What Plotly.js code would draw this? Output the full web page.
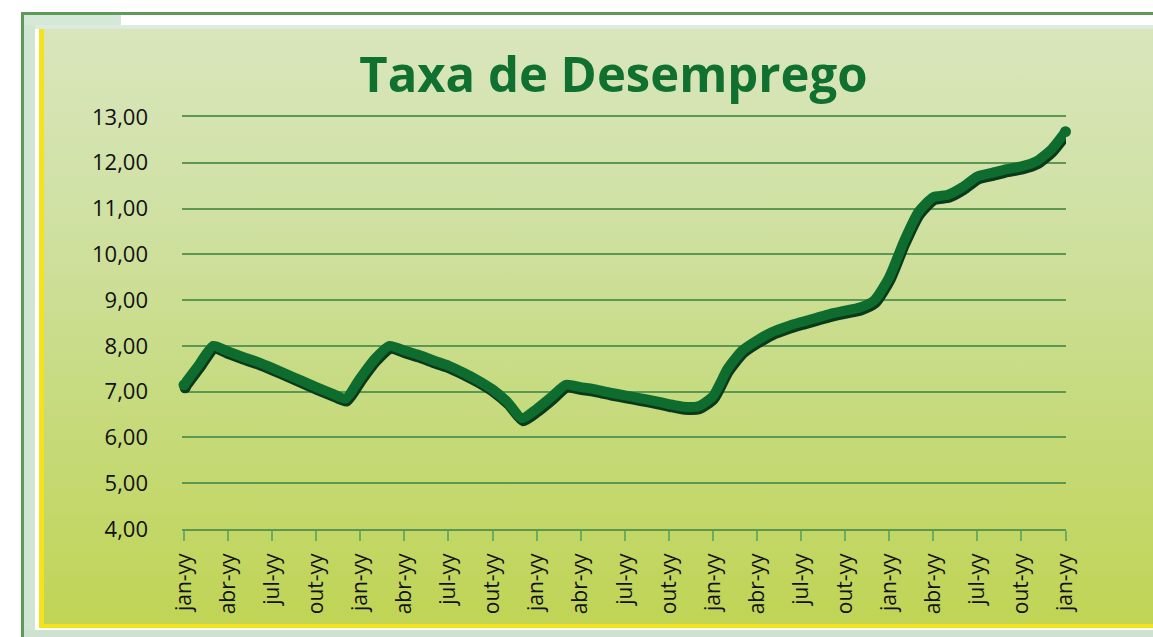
<!DOCTYPE html>
<html>
<head>
<meta charset="utf-8">
<script src="https://cdn.plot.ly/plotly-3.0.1.min.js"></script>
<style>
  html, body { margin: 0; padding: 0; background: #ffffff; width: 1153px; height: 637px; overflow: hidden; }
  .blk { position: absolute; }
  #outer { left: 21px; top: 12px; width: 1132px; height: 625px; border-top: 3px solid #5f9a58; border-left: 3px solid #5f9a58; background: #ffffff; box-sizing: border-box; }
  #mintL { left: 24px; top: 15px; width: 11px; height: 622px; background: #d0e5d2; }
  #mintT { left: 24px; top: 15px; width: 97px; height: 10px; background: #d6e8d8; }
  #pale  { left: 35px; top: 25px; width: 1118px; height: 4px; background: #dcecdc; }
  #mintB { left: 24px; top: 630px; width: 1129px; height: 7px; background: #cde3cf; }
  #yelL  { left: 39px; top: 29px; width: 5px; height: 599px; background: #f3e21c; }
  #yelB  { left: 39px; top: 624px; width: 1114px; height: 4px; background: #f3e21c; }
  #panel { left: 44px; top: 29px; width: 1109px; height: 595px;
           background: linear-gradient(to bottom, #d9e6bd 0%, #d0e1a4 30%, #c7db82 60%, #c0d455 100%); }
  #chart { position: absolute; left: 0; top: 0; width: 1153px; height: 637px; }
  .scatterlayer path.js-line { stroke-linecap: round !important; stroke-linejoin: round !important; }
</style>
</head>
<body>
<div class="blk" id="outer"></div>
<div class="blk" id="mintL"></div>
<div class="blk" id="mintT"></div>
<div class="blk" id="pale"></div>
<div class="blk" id="mintB"></div>
<div class="blk" id="panel"></div>
<div class="blk" id="yelL"></div>
<div class="blk" id="yelB"></div>
<div id="chart"></div>
<script>
// Month index (0 = first "jan-yy" tick) and unemployment rate (%)
const months = [
  0, 1, 2, 3, 4, 5, 6, 7, 8, 9, 10, 11,
  12, 13, 14, 15, 16, 17, 18, 19, 20, 21, 22, 23,
  24, 25, 26, 27, 28, 29, 30, 31, 32, 33, 34, 35,
  36, 37, 38, 39, 40, 41, 42, 43, 44, 45, 46, 47,
  48, 49, 50, 51, 52, 53, 54, 55, 56, 57, 58, 59,
  60
];
const rate = [
  7.15, 7.58, 8.00, 7.88, 7.76, 7.65, 7.52, 7.38, 7.24, 7.10, 6.97, 6.85,
  7.30, 7.72, 8.00, 7.90, 7.80, 7.68, 7.57, 7.42, 7.25, 7.05, 6.78, 6.42,
  6.62, 6.88, 7.15, 7.10, 7.05, 6.98, 6.92, 6.86, 6.80, 6.73, 6.67, 6.68,
  6.90, 7.50, 7.90, 8.12, 8.30, 8.42, 8.52, 8.61, 8.70, 8.77, 8.84, 9.00,
  9.50, 10.28, 10.93, 11.25, 11.30, 11.47, 11.70, 11.78, 11.86, 11.92, 12.03, 12.28,
  12.68
];
const xTickVals = [0, 3, 6, 9, 12, 15, 18, 21, 24, 27, 30, 33, 36, 39, 42, 45, 48, 51, 54, 57, 60];
const xTickText = ['jan-yy','abr-yy','jul-yy','out-yy','jan-yy','abr-yy','jul-yy','out-yy',
                   'jan-yy','abr-yy','jul-yy','out-yy','jan-yy','abr-yy','jul-yy','out-yy',
                   'jan-yy','abr-yy','jul-yy','out-yy','jan-yy'];
const yTickVals = [4, 5, 6, 7, 8, 9, 10, 11, 12, 13];
const yTickText = ['4,00','5,00','6,00','7,00','8,00','9,00','10,00','11,00','12,00','13,00'];
const titleText = 'Taxa de Desemprego';

const DX = 0.08, DY = -0.065;   // shadow offset (down/right)
const shadowX = months.map(m => m + DX);
const shadowY = rate.map(v => v + DY);
const n = months.length - 1;
const endX = [months[0], months[n]];
const endY = [rate[0], rate[n]];

const traces = [
  { x: shadowX, y: shadowY, type: 'scatter', mode: 'lines',
    line: { color: '#0b3a1b', width: 10, shape: 'spline', smoothing: 0.6 }, hoverinfo: 'skip' },
  { x: endX.map(m => m + DX), y: endY.map(v => v + DY), type: 'scatter', mode: 'markers', cliponaxis: false,
    marker: { color: '#0b3a1b', size: 11, line: { width: 0 } }, hoverinfo: 'skip' },
  { x: months, y: rate, type: 'scatter', mode: 'lines',
    line: { color: '#0f6c2f', width: 10, shape: 'spline', smoothing: 0.6 } },
  { x: endX, y: endY, type: 'scatter', mode: 'markers', cliponaxis: false,
    marker: { color: '#0f6c2f', size: 11, line: { width: 0 } }, hoverinfo: 'skip' }
];

const layout = {
  width: 1153, height: 637,
  paper_bgcolor: 'rgba(0,0,0,0)', plot_bgcolor: 'rgba(0,0,0,0)',
  showlegend: false,
  margin: { l: 182, r: 87, t: 117, b: 108, pad: 0 },
  title: { text: titleText, xref: 'container', yref: 'container', x: 0.532, xanchor: 'center',
           y: 0.882, yanchor: 'middle',
           font: { family: 'Open Sans, sans-serif', size: 49, color: '#10702f', weight: 'bold' } },
  xaxis: {
    range: [-0.136, 60.034], tickmode: 'array', tickvals: xTickVals, ticktext: xTickText,
    tickangle: -90, ticks: 'outside', ticklen: 10, tickwidth: 2, tickcolor: '#6eab63',
    ticklabelstandoff: 4,
    showgrid: false, zeroline: false,
    showline: true, linecolor: '#5b9852', linewidth: 2, mirror: true,
    tickfont: { family: 'Open Sans, sans-serif', size: 21, color: '#111111' }
  },
  yaxis: {
    range: [4, 13], tickmode: 'array', tickvals: yTickVals, ticktext: yTickText,
    ticks: '', ticklabelstandoff: 33,
    showgrid: true, gridcolor: '#5b9852', gridwidth: 2, zeroline: false, showline: false,
    tickfont: { family: 'Open Sans, sans-serif', size: 22, color: '#111111' }
  }
};

Plotly.newPlot('chart', traces, layout, { staticPlot: true, displayModeBar: false });
</script>
</body>
</html>
